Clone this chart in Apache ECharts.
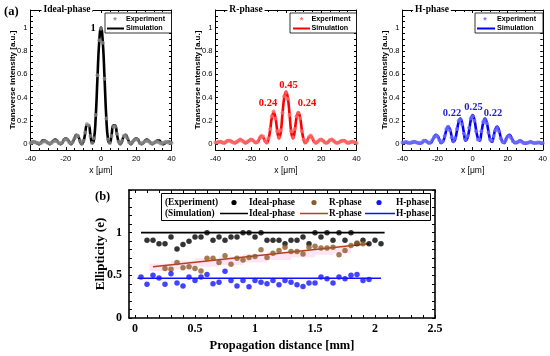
<!DOCTYPE html>
<html><head><meta charset="utf-8">
<script src="https://cdn.jsdelivr.net/npm/echarts@6/dist/echarts.min.js"></script>
<style>html,body{margin:0;padding:0;background:#fff}#c{width:550px;height:356px}</style>
</head><body><div id="c"></div>
<script>
// ---------- DATA ----------
const xProfile = [-40,-39,-38,-37,-36,-35,-34,-33,-32,-31,-30,-29,-28,-27,-26,-25,-24,-23,-22,-21,-20,-19,-18,-17,-16,-15,-14,-13,-12,-11,-10,-9,-8,-7,-6,-5,-4,-3,-2,-1,0,1,2,3,4,5,6,7,8,9,10,11,12,13,14,15,16,17,18,19,20,21,22,23,24,25,26,27,28,29,30,31,32,33,34,35,36,37,38,39,40];

const idealSim = [0.01,0.02,0.02,0.015,0.005,0.00,0.015,0.03,0.03,0.02,0.01,0.00,0.015,0.03,0.04,0.03,0.01,0.00,0.01,0.04,0.05,0.04,0.02,0.00,0.02,0.05,0.08,0.07,0.03,0.00,0.02,0.09,0.16,0.16,0.08,0.01,0.04,0.23,0.57,0.88,
  1.00,
  0.88,0.57,0.23,0.04,0.01,0.08,0.16,0.16,0.09,0.02,0.00,0.03,0.07,0.08,0.05,0.02,0.00,0.02,0.04,0.05,0.04,0.01,0.00,0.01,0.03,0.04,0.03,0.015,0.00,0.01,0.02,0.03,0.03,0.015,0.00,0.005,0.015,0.02,0.02,0.01];
const idealExp = [0.01,0.015,0.02,0.015,0.01,0.005,0.01,0.02,0.025,0.02,0.01,0.005,0.01,0.025,0.03,0.025,0.01,0.005,0.015,0.035,0.045,0.035,0.015,0.005,0.02,0.05,0.075,0.07,0.03,0.005,0.03,0.10,0.17,0.16,0.07,0.01,0.05,0.25,0.59,0.89,
  0.99,
  0.87,0.56,0.22,0.04,0.01,0.07,0.15,0.15,0.09,0.02,0.005,0.03,0.07,0.075,0.05,0.015,0.005,0.02,0.035,0.045,0.035,0.01,0.005,0.015,0.025,0.03,0.025,0.01,0.005,0.01,0.02,0.02,0.015,0.005,0.01,0.015,0.02,0.015,0.01,0.01];

const rSim = [0.01,0.015,0.02,0.02,0.01,0.01,0.02,0.03,0.03,0.025,0.015,0.01,0.015,0.03,0.04,0.035,0.02,0.01,0.015,0.03,0.04,0.035,0.02,0.01,0.02,0.05,0.07,0.06,0.03,0.01,0.04,0.12,0.23,0.27,0.23,0.12,0.05,0.10,0.26,0.40,
  0.45,
  0.40,0.26,0.10,0.05,0.12,0.23,0.27,0.23,0.12,0.04,0.01,0.03,0.06,0.07,0.05,0.02,0.01,0.02,0.035,0.04,0.03,0.015,0.01,0.02,0.035,0.04,0.03,0.015,0.01,0.015,0.025,0.03,0.03,0.02,0.01,0.01,0.02,0.02,0.015,0.01];
const rExp = [0.015,0.015,0.02,0.02,0.015,0.01,0.02,0.03,0.03,0.02,0.015,0.01,0.02,0.03,0.04,0.03,0.02,0.01,0.02,0.03,0.04,0.035,0.02,0.015,0.02,0.05,0.07,0.065,0.03,0.015,0.05,0.13,0.24,0.28,0.22,0.11,0.06,0.12,0.27,0.41,
  0.44,
  0.39,0.25,0.11,0.06,0.13,0.24,0.27,0.22,0.11,0.04,0.015,0.03,0.06,0.075,0.05,0.02,0.01,0.02,0.035,0.04,0.03,0.015,0.01,0.02,0.035,0.04,0.03,0.015,0.01,0.015,0.025,0.03,0.03,0.02,0.01,0.015,0.02,0.02,0.015,0.01];

const hSim = [0.01,0.01,0.015,0.01,0.01,0.01,0.015,0.02,0.015,0.01,0.005,0.01,0.025,0.03,0.02,0.01,0.01,0.03,0.06,0.08,0.07,0.04,0.01,0.02,0.06,0.12,0.15,0.13,0.07,0.02,0.04,0.11,0.19,0.22,0.18,0.10,0.03,0.05,0.12,0.21,
  0.25,
  0.21,0.12,0.05,0.03,0.10,0.18,0.22,0.19,0.11,0.04,0.02,0.07,0.13,0.15,0.12,0.06,0.02,0.01,0.04,0.07,0.08,0.06,0.03,0.01,0.01,0.02,0.03,0.025,0.01,0.005,0.01,0.015,0.02,0.015,0.01,0.01,0.01,0.015,0.01,0.01];
const hExp = [0.015,0.015,0.02,0.015,0.01,0.015,0.02,0.02,0.015,0.01,0.01,0.015,0.03,0.03,0.02,0.01,0.015,0.035,0.06,0.075,0.065,0.035,0.015,0.025,0.07,0.13,0.15,0.12,0.06,0.025,0.05,0.13,0.20,0.21,0.17,0.09,0.04,0.07,0.14,0.22,
  0.24,
  0.20,0.11,0.04,0.04,0.11,0.19,0.21,0.18,0.10,0.04,0.03,0.07,0.12,0.14,0.11,0.05,0.02,0.015,0.04,0.065,0.07,0.05,0.025,0.015,0.015,0.02,0.03,0.02,0.01,0.01,0.01,0.015,0.02,0.015,0.01,0.01,0.015,0.015,0.01,0.01];

const profileYLabels = [0,0.2,0.4,0.6,0.8,1];

// Ellipticity vs propagation distance
const idealDist = [0.10,0.15,0.20,0.25,0.30,0.35,0.40,0.45,0.50,0.55,0.60,0.65,0.70,0.75,0.80,0.85,0.90,0.95,1.00,1.05,1.10,1.15,1.20,1.25,1.30,1.35,1.40,1.45,1.50,1.55,1.60,1.65,1.70,1.75,1.80,1.85,1.90,1.95,2.00,2.05];
const idealEll  = [0.91,0.91,0.87,0.87,0.95,0.81,0.86,0.90,0.95,0.95,1.00,0.91,0.95,0.91,0.95,0.95,1.00,1.00,0.95,1.00,0.91,0.91,0.91,0.87,0.91,0.91,0.95,0.87,1.00,0.95,1.00,0.91,1.00,0.91,1.00,0.87,0.91,0.87,0.91,0.87];
const rDist = [0.25,0.30,0.35,0.40,0.45,0.50,0.55,0.60,0.65,0.70,0.75,0.80,0.85,0.90,0.95,1.00,1.05,1.10,1.15,1.20,1.25,1.30,1.35,1.40,1.45,1.50,1.55,1.60,1.65,1.70,1.75,1.80,1.85,1.90];
const rEll  = [0.58,0.57,0.65,0.59,0.60,0.58,0.55,0.70,0.70,0.65,0.73,0.63,0.70,0.68,0.71,0.72,0.80,0.71,0.76,0.79,0.83,0.78,0.78,0.75,0.83,0.84,0.82,0.82,0.83,0.74,0.79,0.85,0.88,0.87];
const hDist = [0.05,0.10,0.15,0.20,0.25,0.30,0.35,0.40,0.45,0.50,0.55,0.60,0.65,0.70,0.75,0.80,0.85,0.90,0.95,1.00,1.05,1.10,1.15,1.20,1.25,1.30,1.35,1.40,1.45,1.50,1.55,1.60,1.65,1.70,1.75,1.80,1.85,1.90,1.95];
const hEll  = [0.48,0.395,0.50,0.47,0.395,0.52,0.41,0.376,0.48,0.44,0.48,0.51,0.40,0.42,0.547,0.44,0.376,0.44,0.365,0.44,0.42,0.40,0.44,0.39,0.44,0.42,0.39,0.37,0.41,0.41,0.48,0.46,0.41,0.48,0.46,0.50,0.51,0.44,0.45];
// simulation curves
const idealSimDist = [0.05,2.08], idealSimEll = [1.00,1.00];
const rSimDist = [0.15,1.95],     rSimEll = [0.60,0.87];
const hSimDist = [0.02,2.05],     hSimEll = [0.465,0.465];
// shaded uncertainty band for R-phase (stepped)
const bandDist = [0.12,0.30,0.50,0.70,0.90,1.10,1.30,1.50,1.65,1.80];
const bandLow  = [0.55,0.57,0.60,0.62,0.65,0.68,0.71,0.74,0.76,0.76];
const bandHigh = [0.64,0.67,0.70,0.72,0.75,0.78,0.80,0.83,0.85,0.85];
const distLabels = [0,0.5,1,1.5,2,2.5];
const ellLabels = [0,0.5,1];

// ---------- CHART ----------
const SANS = '"Liberation Sans", Arial, sans-serif';
const SERIF = '"Liberation Serif", "Times New Roman", serif';
const zip = (a,b) => a.map((v,i)=>[v,b[i]]);
const range = (a,b,s) => { const r=[]; for (let v=a; v<=b+1e-9; v+=s) r.push(+v.toFixed(3)); return r; };

const grids = [
  {left:30.5, top:10, width:141, height:140},
  {left:215.5, top:10, width:141, height:140},
  {left:402.5, top:10, width:140.5, height:140},
  {left:129, top:190, width:306, height:128}
];
const xAxes = [], yAxes = [];
const blk = {color:'#000', width:1};
for (let i=0;i<3;i++){
  xAxes.push({type:'value', gridIndex:i, min:-40, max:40, interval:20, position:'bottom',
    axisLine:{onZero:false, lineStyle:blk}, axisTick:{inside:true, length:3, lineStyle:blk},
    minorTick:{show:true, splitNumber:4, length:2, lineStyle:blk}, splitLine:{show:false},
    axisLabel:{fontFamily:SANS, fontSize:7.6, color:'#000', margin:5},
    name:'x [μm]', nameLocation:'middle', nameGap:16, nameMoveOverlap:false,
    nameTextStyle:{fontFamily:SANS, fontSize:8.5, color:'#000'}});
  xAxes.push({type:'value', gridIndex:i, min:-40, max:40, interval:20, position:'top',
    axisLine:{onZero:false, lineStyle:blk}, axisTick:{inside:true, length:3, lineStyle:blk},
    minorTick:{show:true, splitNumber:4, length:2, lineStyle:blk}, splitLine:{show:false}, axisLabel:{show:false}});
  yAxes.push({type:'value', gridIndex:i, min:-0.05, max:1.15, position:'left',
    axisLine:{onZero:false, lineStyle:blk},
    axisTick:{inside:true, length:2.5, lineStyle:blk, customValues:range(0,1.15,0.05)},
    splitLine:{show:false},
    axisLabel:{fontFamily:SANS, fontSize:7.6, color:'#000', margin:3, customValues:profileYLabels},
    name:'Transverse intensity [a.u.]', nameLocation:'middle', nameGap:14, nameMoveOverlap:false,
    nameTextStyle:{fontFamily:SANS, fontSize:8, fontWeight:'bold', color:'#000'}});
  yAxes.push({type:'value', gridIndex:i, min:-0.05, max:1.15, position:'right',
    axisLine:{onZero:false, lineStyle:blk},
    axisTick:{inside:true, length:2.5, lineStyle:blk, customValues:range(0,1.15,0.05)},
    splitLine:{show:false}, axisLabel:{show:false}});
}
const blk2 = {color:'#000', width:1.6};
xAxes.push({type:'value', gridIndex:3, min:-0.05, max:2.5, position:'bottom',
  axisLine:{onZero:false, lineStyle:blk2}, axisTick:{inside:true, length:3, lineStyle:{color:'#000',width:1}, customValues:range(0,2.5,0.1)},
  splitLine:{show:false},
  axisLabel:{fontFamily:SERIF, fontWeight:'bold', fontSize:12, color:'#000', margin:5, customValues:distLabels},
  name:'Propagation distance [mm]', nameLocation:'middle', nameGap:21, nameMoveOverlap:false,
  nameTextStyle:{fontFamily:SERIF, fontWeight:'bold', fontSize:12.5, color:'#000'}});
xAxes.push({type:'value', gridIndex:3, min:-0.05, max:2.5, position:'top',
  axisLine:{onZero:false, lineStyle:blk2}, axisTick:{inside:true, length:3, lineStyle:{color:'#000',width:1}, customValues:range(0,2.5,0.1)},
  splitLine:{show:false}, axisLabel:{show:false}});
yAxes.push({type:'value', gridIndex:3, min:0, max:1.5, position:'left',
  axisLine:{onZero:false, lineStyle:blk2}, axisTick:{inside:true, length:3, lineStyle:{color:'#000',width:1}, customValues:range(0,1.5,0.1)},
  splitLine:{show:false},
  axisLabel:{fontFamily:SERIF, fontWeight:'bold', fontSize:12, color:'#000', margin:7, customValues:ellLabels},
  name:'Ellipticity (e)', nameLocation:'middle', nameGap:22, nameMoveOverlap:false,
  nameTextStyle:{fontFamily:SERIF, fontWeight:'bold', fontSize:13, color:'#000'}});
yAxes.push({type:'value', gridIndex:3, min:0, max:1.5, position:'right',
  axisLine:{onZero:false, lineStyle:blk2}, axisTick:{inside:true, length:3, lineStyle:{color:'#000',width:1}, customValues:range(0,1.5,0.1)},
  splitLine:{show:false}, axisLabel:{show:false}});

const panels = [
  {sim:idealSim, exp:idealExp, simC:'#000000', expC:'#8a8a8a'},
  {sim:rSim, exp:rExp, simC:'#ff0000', expC:'#ff6a6a'},
  {sim:hSim, exp:hExp, simC:'#0000ff', expC:'#6f6fff'}
];
const series = [];
panels.forEach((p,i)=>{
  series.push({type:'line', xAxisIndex:2*i, yAxisIndex:2*i, data:zip(xProfile,p.sim), smooth:true,
    showSymbol:false, lineStyle:{color:p.simC, width:2.6}, z:2});
  series.push({type:'scatter', xAxisIndex:2*i, yAxisIndex:2*i, data:zip(xProfile,p.exp),
    symbolSize:4, itemStyle:{color:p.expC}, z:3});
});
// bottom panel: stepped band as a polygon through the axes
series.push({type:'custom', xAxisIndex:6, yAxisIndex:6, data:[[bandDist[0], bandLow[0]]], z:1,
  renderItem:(params, api)=>{
    const pts = [];
    for (let i=0;i<bandDist.length-1;i++){ pts.push(api.coord([bandDist[i],bandHigh[i]])); pts.push(api.coord([bandDist[i+1],bandHigh[i]])); }
    for (let i=bandDist.length-2;i>=0;i--){ pts.push(api.coord([bandDist[i+1],bandLow[i]])); pts.push(api.coord([bandDist[i],bandLow[i]])); }
    return {type:'polygon', shape:{points:pts}, style:{fill:'rgba(255,120,200,0.2)'}};
  }});
series.push({type:'line', xAxisIndex:6, yAxisIndex:6, data:zip(idealSimDist,idealSimEll), showSymbol:false, lineStyle:{color:'#000',width:1.6}, z:2});
series.push({type:'line', xAxisIndex:6, yAxisIndex:6, data:zip(rSimDist,rSimEll), showSymbol:false, lineStyle:{color:'#b5401e',width:1.6}, z:2});
series.push({type:'line', xAxisIndex:6, yAxisIndex:6, data:zip(hSimDist,hSimEll), showSymbol:false, lineStyle:{color:'#1010ff',width:1.6}, z:2});
series.push({type:'scatter', xAxisIndex:6, yAxisIndex:6, data:zip(idealDist,idealEll), symbolSize:5.5, itemStyle:{color:'#000'}, z:3});
series.push({type:'scatter', xAxisIndex:6, yAxisIndex:6, data:zip(rDist,rEll), symbolSize:5.5, itemStyle:{color:'#8e5a28'}, z:3});
series.push({type:'scatter', xAxisIndex:6, yAxisIndex:6, data:zip(hDist,hEll), symbolSize:5.5, itemStyle:{color:'#1414ff'}, z:3});

// ---------- decorations ----------
const G = [];
function txt(x,y,t,font,fill,align,bg){
  const s = {x:x,y:y,text:t,font:font,fill:fill||'#000',align:align||'left',verticalAlign:'middle'};
  if (bg){ s.backgroundColor='#fff'; s.padding=[0,2]; }
  G.push({type:'text', z:100, style:s});
}
function line(x0,y0,x1,y1,c,w){ G.push({type:'line', z:100, shape:{x1:x0,y1:y0,x2:x1,y2:y1}, style:{stroke:c,lineWidth:w}}); }
function rect(x,y,w,h,lw){ G.push({type:'rect', z:99, shape:{x:x,y:y,width:w,height:h}, style:{fill:'#fff',stroke:'#000',lineWidth:lw}}); }
function dot(x,y,r,c){ G.push({type:'circle', z:100, shape:{cx:x,cy:y,r:r}, style:{fill:c}}); }

const fTitle = 'bold 9.5px "Liberation Serif"';
txt(4,12,'(a)','bold 12.5px "Liberation Serif"');
txt(67,10,'Ideal-phase',fTitle,'#000','center',true);
txt(246,10,'R-phase',fTitle,'#000','center',true);
txt(432,10,'H-phase',fTitle,'#000','center',true);

const legTop = [
  {bx:105, bw:66.5, mx:115, l0:107, l1:124, tx:126, e:'#8a8a8a', s:'#000'},
  {bx:290, bw:66.5, mx:301.5, l0:293, l1:310, tx:311.5, e:'#ff6a6a', s:'#ff0000'},
  {bx:475, bw:68, mx:485, l0:477, l1:495, tx:497, e:'#6f6fff', s:'#0000ff'}
];
const fLeg = 'bold 7.2px "Liberation Sans"';
legTop.forEach(L=>{
  rect(L.bx,13,L.bw,20,0.8);
  txt(L.mx,21,'*','bold 9px "Liberation Sans"',L.e,'center');
  txt(L.tx,19.5,'Experiment',fLeg);
  line(L.l0,28.5,L.l1,28.5,L.s,2);
  txt(L.tx,28.5,'Simulation',fLeg);
});
const fAnn = 'bold 10.5px "Liberation Serif"';
txt(93,28,'1',fAnn,'#000','center');
txt(288.5,85,'0.45',fAnn,'#ff0000','center');
txt(268,103,'0.24',fAnn,'#ff0000','center');
txt(307,103,'0.24',fAnn,'#ff0000','center');
txt(473.5,107,'0.25',fAnn,'#1f1fd0','center');
txt(452,113.5,'0.22',fAnn,'#1f1fd0','center');
txt(493,113.5,'0.22',fAnn,'#1f1fd0','center');

// bottom legend
txt(95,197,'(b)','bold 12.5px "Liberation Serif"');
rect(161.5,193.5,269,27,1);
const fBL = 'bold 9.3px "Liberation Serif"';
txt(165,202.5,'(Experiment)',fBL); dot(234,202.5,2.6,'#000'); txt(249,202.5,'Ideal-phase',fBL);
dot(314,202.5,2.6,'#8e5a28'); txt(329,202.5,'R-phase',fBL);
dot(379,202.5,2.6,'#1414ff'); txt(396,202.5,'H-phase',fBL);
txt(165,213.5,'(Simulation)',fBL); line(220,213.5,248,213.5,'#000',1.5); txt(249,213.5,'Ideal-phase',fBL);
line(300,213.5,328,213.5,'#b5401e',1.5); txt(329,213.5,'R-phase',fBL);
line(365,213.5,395,213.5,'#1010ff',1.5); txt(396,213.5,'H-phase',fBL);

const chart = echarts.init(document.getElementById('c'), null, {renderer:'canvas'});
chart.setOption({animation:false, backgroundColor:'#fff', grid:grids, xAxis:xAxes, yAxis:yAxes, series:series, graphic:G});
</script></body></html>
